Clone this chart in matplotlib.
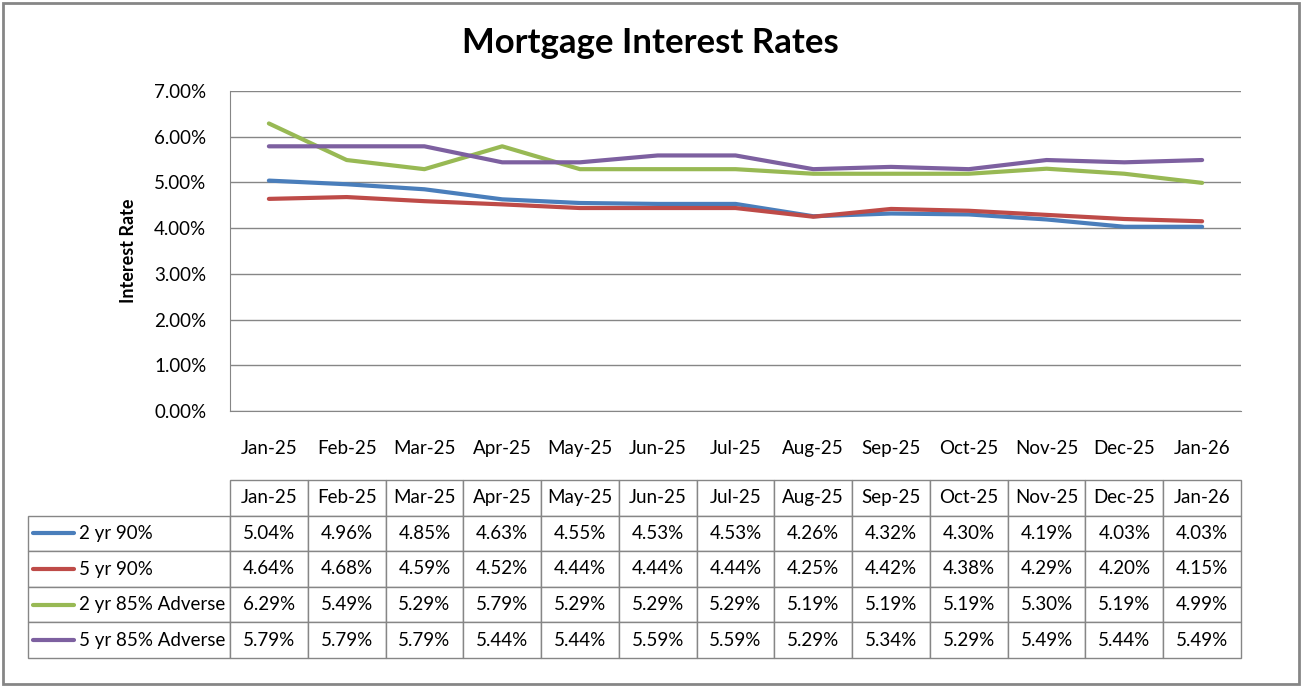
import matplotlib
matplotlib.use("Agg")
import matplotlib.pyplot as plt
from matplotlib.patches import Rectangle
from matplotlib.lines import Line2D

plt.rcParams['font.family'] = ['Lato', 'DejaVu Sans']

months = ['Jan-25', 'Feb-25', 'Mar-25', 'Apr-25', 'May-25', 'Jun-25', 'Jul-25',
          'Aug-25', 'Sep-25', 'Oct-25', 'Nov-25', 'Dec-25', 'Jan-26']
series_names = ['2 yr 90%', '5 yr 90%', '2 yr 85% Adverse', '5 yr 85% Adverse']
two_yr_90 = [5.04, 4.96, 4.85, 4.63, 4.55, 4.53, 4.53, 4.26, 4.32, 4.30, 4.19, 4.03, 4.03]
five_yr_90 = [4.64, 4.68, 4.59, 4.52, 4.44, 4.44, 4.44, 4.25, 4.42, 4.38, 4.29, 4.20, 4.15]
two_yr_85_adv = [6.29, 5.49, 5.29, 5.79, 5.29, 5.29, 5.29, 5.19, 5.19, 5.19, 5.30, 5.19, 4.99]
five_yr_85_adv = [5.79, 5.79, 5.79, 5.44, 5.44, 5.59, 5.59, 5.29, 5.34, 5.29, 5.49, 5.44, 5.49]
colors = ['#4A7EBB', '#BE4B48', '#98B954', '#7D60A0']

W, H = 1302, 687
fig = plt.figure(figsize=(W / 100, H / 100), dpi=100)

# plot area in pixels
px_l, px_r, px_t, px_b = 230, 1241, 91, 411
ax = fig.add_axes([px_l / W, 1 - px_b / H, (px_r - px_l) / W, (px_b - px_t) / H])

all_series = [two_yr_90, five_yr_90, two_yr_85_adv, five_yr_85_adv]
x = range(len(months))
for vals, c in zip(all_series, colors):
    ax.plot(x, vals, color=c, lw=3, solid_capstyle='round')

ax.set_xlim(-0.5, len(months) - 0.5)
ax.set_ylim(0, 7)
ax.set_yticks(range(8))
ax.set_yticklabels([f"{v:.2f}%" for v in range(8)], fontsize=13.5)
ax.set_xticks(list(x))
ax.set_xticklabels(months, fontsize=13.5)
ax.tick_params(axis='both', length=0)
ax.tick_params(axis='x', pad=21)
ax.tick_params(axis='y', pad=17)
ax.yaxis.grid(True, color='#868686', lw=1)
ax.set_axisbelow(True)
for s in ['top', 'right']:
    ax.spines[s].set_visible(False)
for s in ['left', 'bottom']:
    ax.spines[s].set_color('#868686')
ax.set_ylabel('Interest Rate', fontsize=13, fontweight='bold', labelpad=12)

fig.text(650 / W, 1 - 43 / H, 'Mortgage Interest Rates', ha='center', va='center',
         fontsize=25, fontweight='bold')

# data table below the chart
tb_l, tb_t, tb_b = 28, 480, 658
pw = px_r - px_l
ph = px_b - px_t
bx0 = (tb_l - px_l) / pw
by0 = (px_b - tb_b) / ph
bw = (px_r - tb_l) / pw
bh = (tb_b - tb_t) / ph

cell_text = [[''] + months]
for name, vals in zip(series_names, all_series):
    cell_text.append([name] + [f"{v:.2f}%" for v in vals])
col_w = [px_l - tb_l] + [pw / len(months)] * len(months)
tbl = ax.table(cellText=cell_text, colWidths=col_w, cellLoc='center',
               bbox=[bx0, by0, bw, bh])
tbl.auto_set_font_size(False)
tbl.set_fontsize(13.5)
for (r, c), cell in tbl.get_celld().items():
    cell.set_edgecolor('#868686')
    cell.set_linewidth(1)
    if r == 0 and c == 0:
        cell.visible_edges = ''
    if c == 0 and r > 0:
        cell._loc = 'left'
        cell.PAD = 51 / (px_l - tb_l)
        cell.get_text().set_ha('left')

# legend keys inside the row label cells
row_h = (tb_b - tb_t) / 5
for i, c in enumerate(colors):
    yc = tb_t + row_h * (i + 1.5)
    fig.add_artist(Line2D([33 / W, 74 / W], [1 - yc / H, 1 - yc / H], color=c, lw=3,
                          solid_capstyle='round'))

# outer chart border
fig.add_artist(Rectangle((3 / W, 3 / H), (W - 6) / W, (H - 6) / H, fill=False,
                         edgecolor='#868686', lw=2, transform=fig.transFigure))

plt.savefig('out.png', dpi=100)
